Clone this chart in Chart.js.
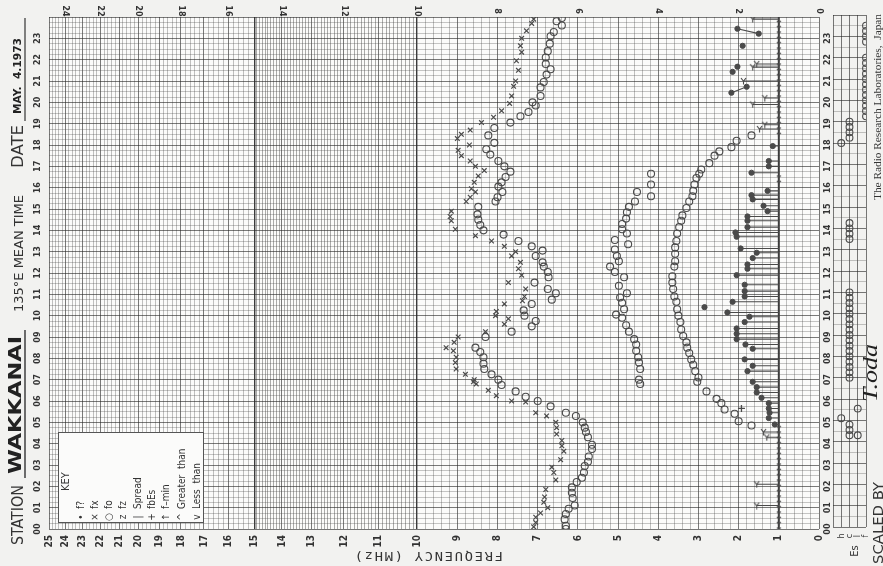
<!DOCTYPE html>
<html>
<head>
<meta charset="utf-8">
<script src="https://cdn.jsdelivr.net/npm/chart.js@4.4.1/dist/chart.umd.min.js"></script>
<style>
html, body { margin: 0; padding: 0; background: #f2f2f0; }
#wrap { position: relative; width: 883px; height: 566px; overflow: hidden; }
#wrap canvas { position: absolute; left: 0; top: 0; }
</style>
</head>
<body>
<div id="wrap">
  <canvas id="main" width="883" height="566"></canvas>
  <canvas id="es" width="883" height="566"></canvas>
</div>
<script>
// ---- data: [hour, MHz] ----
const fxF2 = [
  [0.10,7.10],[0.30,7.05],[0.55,7.05],[0.75,6.93],[1.00,6.75],[1.25,6.85],[1.50,6.83],[1.85,6.80],
  [2.30,6.55],[2.65,6.60],[2.90,6.65],[3.25,6.43],[3.65,6.35],[3.90,6.40],[4.15,6.40],[4.45,6.53],
  [4.75,6.53],[5.00,6.55],[5.30,6.78],[5.45,7.05],[5.95,7.30],[6.00,7.65],[6.25,8.03],[6.50,8.23],
  [6.80,8.53],[6.90,8.60],[7.00,8.58],[7.25,8.80],[7.50,9.03],[7.80,9.05],[8.05,9.03],[8.35,9.10],
  [8.50,9.28],[8.75,9.08],[9.00,8.98],[9.25,8.30],[9.60,7.83],[9.85,7.73],[10.00,8.05],[10.20,8.03],
  [10.55,7.83],[10.70,7.38],[10.90,7.33],[11.25,7.30],[11.55,7.73],[11.90,7.40],[12.20,7.48],[12.50,7.43],
  [12.80,7.65],[13.00,7.55],[13.25,7.83],[13.50,8.15],[13.75,8.55],[14.05,9.05],[14.45,9.15],[14.65,9.18],
  [14.90,9.15],[15.35,8.78],[15.55,8.68],[15.80,8.55],[15.95,8.65],[16.25,8.58],[16.55,8.48],[16.80,8.33],
  [17.00,8.55],[17.25,8.68],[17.50,8.90],[17.75,8.98],[18.00,8.70],[18.30,9.00],[18.50,8.90],[18.70,8.68],
  [19.05,8.40],[19.30,8.10],[19.60,7.90],[19.95,7.70],[20.30,7.65],[20.75,7.60],[21.00,7.55],[21.50,7.48],
  [21.95,7.53],[22.35,7.40],[22.65,7.43],[23.00,7.40],[23.35,7.28],[23.70,7.15],[23.90,7.10]
];
const foF2 = [
  [0.00,6.30],[0.15,6.30],[0.45,6.33],[0.70,6.30],[0.95,6.23],[1.10,6.08],[1.45,6.13],[1.70,6.15],
  [1.95,6.15],[2.20,6.03],[2.40,5.90],[2.65,5.85],[2.95,5.83],[3.15,5.75],[3.40,5.73],[3.75,5.65],
  [3.95,5.65],[4.30,5.75],[4.55,5.80],[4.75,5.83],[5.00,5.88],[5.30,6.05],[5.45,6.30],[5.75,6.68],
  [6.00,7.00],[6.20,7.30],[6.45,7.55],[6.75,7.90],[7.00,7.98],[7.25,8.15],[7.50,8.33],[7.75,8.35],
  [8.05,8.35],[8.30,8.43],[8.50,8.55],[9.00,8.30],[9.25,7.65],[9.50,7.15],[9.75,7.05],[10.00,7.33],
  [10.25,7.35],[10.55,7.15],[10.75,6.65],[11.05,6.55],[11.25,6.75],[11.55,7.08],[11.80,6.73],[12.05,6.75],
  [12.30,6.85],[12.50,6.88],[12.80,7.05],[13.05,6.88],[13.25,7.15],[13.50,7.48],[13.80,7.85],[14.00,8.35],
  [14.25,8.43],[14.50,8.48],[14.75,8.50],[15.10,8.48],[15.35,8.05],[15.55,8.00],[15.80,7.88],[16.05,7.98],
  [16.25,7.90],[16.50,7.80],[16.75,7.68],[17.00,7.83],[17.25,7.98],[17.55,8.18],[17.80,8.28],[18.10,8.08],
  [18.45,8.23],[18.80,8.08],[19.05,7.68],[19.35,7.43],[19.55,7.23],[19.85,7.05],[20.00,7.13],[20.30,6.93],
  [20.70,6.93],[20.95,6.85],[21.30,6.78],[21.55,6.68],[21.80,6.80],[22.10,6.80],[22.40,6.75],[22.75,6.70],
  [23.10,6.68],[23.30,6.60],[23.60,6.40],[23.80,6.53],[23.95,6.40]
];
const foF1 = [
  [6.80,4.45],[7.00,4.48],[7.50,4.45],[7.80,4.48],[8.05,4.50],[8.35,4.55],[8.65,4.55],[8.90,4.60],
  [9.25,4.73],[9.55,4.80],[9.90,4.90],[10.05,5.05],[10.30,4.85],[10.60,4.90],[10.85,4.95],[11.05,4.78],
  [11.40,4.98],[11.80,4.85],[12.05,5.08],[12.30,5.20],[12.55,4.98],[12.80,5.03],[13.10,5.08],[13.35,4.75],
  [13.55,5.08],[13.85,4.78],[14.05,4.90],[14.30,4.90],[14.55,4.80],[14.85,4.78],[15.10,4.73],[15.35,4.58],
  [15.60,4.18],[15.80,4.53],[16.15,4.18],[16.65,4.18]
];
const foE = [
  [4.85,1.68],[5.05,2.00],[5.40,2.10],[5.60,2.35],[5.90,2.43],[6.10,2.55],[6.45,2.80],[6.90,3.03],
  [7.10,3.00],[7.40,3.08],[7.70,3.13],[7.95,3.18],[8.25,3.23],[8.50,3.28],[8.75,3.30],[9.05,3.38],
  [9.35,3.43],[9.70,3.45],[10.00,3.50],[10.30,3.53],[10.65,3.55],[10.90,3.60],[11.25,3.63],[11.55,3.65],
  [11.85,3.65],[12.30,3.60],[12.55,3.58],[12.90,3.58],[13.20,3.58],[13.50,3.55],[13.85,3.53],[14.15,3.48],
  [14.45,3.43],[14.70,3.40],[15.05,3.30],[15.35,3.23],[15.60,3.15],[15.85,3.13],[16.15,3.10],[16.45,3.05],
  [16.65,2.98],[16.85,2.93],[17.15,2.73],[17.50,2.60],[17.70,2.48],[17.90,2.18],[18.20,2.05],[18.45,1.68]
];
// Es dots that carry a line down to the f-min line
const esDots = [
  [4.90,1.10],[5.20,1.25],[5.45,1.23],[5.65,1.25],[5.90,1.25],[6.15,1.43],[6.40,1.55],[6.65,1.55],
  [6.90,1.65],[7.40,1.78],[7.65,1.65],[7.95,1.85],[8.45,1.65],[8.65,1.83],[8.90,2.05],[9.15,2.05],
  [9.40,2.05],[9.70,1.85],[9.95,1.73],[10.15,2.28],[10.65,2.15],[10.90,1.85],[11.15,1.85],[11.45,1.85],
  [11.90,2.05],[12.20,1.78],[12.40,1.78],[12.70,1.65],[12.95,1.55],[13.15,1.95],[13.70,2.05],[13.90,2.08],
  [14.15,1.78],[14.45,1.78],[14.65,1.78],[14.90,1.28],[15.15,1.38],[15.45,1.65],[15.65,1.68],[15.85,1.28],
  [16.70,1.68],[17.00,1.25],[17.25,1.25],[17.95,1.15]
];
// Es dots without the line
const esFree = [[10.40,2.85],[20.45,2.18],[20.73,1.80],[21.43,2.15],[21.67,2.03],[22.65,1.90],[23.22,1.50],[23.45,2.03]];
const esLinks = [[[20.45,2.18],[20.73,1.80]], [[23.22,1.50],[23.45,2.03]]];
const fbEs = [[5.65,1.93]];
// "less than" Es readings
const esLess = [
  [1.10,1.55],[2.10,1.55],[4.30,1.30],[4.55,1.38],[18.75,1.48],[18.95,1.35],[19.90,1.65],[20.20,1.35],
  [21.00,1.88],[21.65,1.65],[21.80,1.55],[23.90,1.65]
];
const fminValue = 1.0;
const fminTimes = [
  0,0.25,0.5,0.75,1,1.25,1.5,1.75,2,2.25,2.5,2.75,3,3.25,3.5,3.75,4,4.25,4.5,4.75,
  16.25,16.5,18.5,18.75,19,19.25,19.5,19.75,20,20.25,20.5,20.75,21,21.25,21.5,21.75,
  22,22.25,22.5,22.75,23,23.25,23.5,23.75
];
// Es type panel (hours)
const esTypeH = [5.1, 18.0];
const esTypeC = [4.3,4.55,4.8,7.0,7.25,7.5,7.75,8.0,8.25,8.5,8.75,9.0,9.25,9.5,9.75,10.0,10.25,10.5,10.75,11.0,
  13.5,13.75,14.0,14.25,18.25,18.5,18.75,19.0];
const esTypeL = [4.3, 5.55];
const esTypeF = [19.25,19.5,19.75,20.0,20.25,20.5,20.75,21.0,21.25,21.5,21.75,22.0,22.75,23.0,23.25,23.5];
const esColumns = ['h', 'c', 'l', 'f'];

const hourLabels = ['00','01','02','03','04','05','06','07','08','09','10','11','12','13','14','15','16','17','18','19','20','21','22','23'];
const bottomFreqLabels = [25,24,23,22,21,20,19,18,17,16,15,14,13,12,11,10,9,8,7,6,5,4,3,2,1,0];
const topFreqLabels = [24,22,20,18,16,14,12,10,8,6,4,2,0];
const keyRows = [['\u2022','f?'],['\u00d7','fx'],['\u25cb','fo'],['z','fz'],['|','Spread'],['+','fbEs'],['\u2191','f\u2013min'],['^','Greater  than'],['v','Less  than']];

// ---- ionogram frequency scale: linear to 10 MHz, logarithmic above ----
const toU = f => f <= 10 ? f : 10 + 10 * Math.log(f / 10);
const fromU = u => u <= 10 ? u : 10 * Math.exp((u - 10) / 10);

const freqGrid = [];
for (let i = 0; i <= 250; i++) {
  const v = i / 10;
  if ((v < 10 || v >= 15) && i % 2) continue;
  freqGrid.push(v);
}
const timeGrid = [];
for (let i = 0; i <= 96; i++) timeGrid.push(i / 4);
const esTimeGrid = [];
for (let i = 0; i <= 48; i++) esTimeGrid.push(i / 2);

class IonoScale extends Chart.LinearScale {
  static id = 'iono';
  static defaults = Chart.LinearScale.defaults;
  buildTicks() {
    return freqGrid.map(v => ({ value: v }));
  }
  configure() {
    super.configure();
    this._u0 = toU(this.min);
    this._u1 = toU(this.max);
  }
  getPixelForValue(v) {
    if (v === null || v === undefined || isNaN(v)) return NaN;
    return this.getPixelForDecimal((toU(v) - this._u0) / (this._u1 - this._u0));
  }
  getValueForPixel(p) {
    return fromU(this._u0 + this.getDecimalForPixel(p) * (this._u1 - this._u0));
  }
}
Chart.register(IonoScale);

const COND = '"DejaVu Sans Condensed", "Liberation Sans Narrow", "DejaVu Sans", sans-serif';
const INK = '#4a4a4a';

// little "less than" marks
function makeMark(w, h) {
  const c = document.createElement('canvas');
  c.width = w; c.height = h;
  const g = c.getContext('2d');
  g.strokeStyle = INK; g.lineWidth = 1.1;
  g.beginPath();
  g.moveTo(1, 1); g.lineTo(w / 2, h * 0.55); g.lineTo(w - 1, 1);
  g.moveTo(w / 2, h * 0.55); g.lineTo(w / 2, h - 0.5);
  g.stroke();
  return c;
}
const lessMark = makeMark(7, 8);
const fminMark = makeMark(6, 5);

function rtext(ctx, str, x, y, opt) {
  ctx.save();
  ctx.translate(x, y);
  ctx.rotate((opt.angle === undefined ? -90 : opt.angle) * Math.PI / 180);
  ctx.font = opt.font;
  ctx.fillStyle = opt.color || '#333';
  ctx.textAlign = opt.align || 'center';
  ctx.textBaseline = 'middle';
  if (opt.spacing) ctx.letterSpacing = opt.spacing;
  if (opt.len) {
    const w = ctx.measureText(str).width;
    ctx.scale(opt.len / w, 1);
  }
  ctx.fillText(str, 0, 0);
  ctx.restore();
}

function vline(ctx, x, y0, y1, w) {
  ctx.save();
  ctx.strokeStyle = '#333';
  ctx.lineWidth = w || 1;
  ctx.beginPath(); ctx.moveTo(x, y0); ctx.lineTo(x, y1); ctx.stroke();
  ctx.restore();
}

const toXY = arr => arr.map(([t, f]) => ({ x: f, y: t }));

const esSegments = [];
[...esDots, ...esLess].forEach(([t, f]) => {
  esSegments.push({ x: f, y: t }, { x: fminValue, y: t }, { x: fminValue, y: null });
});
const linkSegments = [];
esLinks.forEach(([a, b]) => {
  linkSegments.push({ x: a[1], y: a[0] }, { x: b[1], y: b[0] }, { x: b[1], y: null });
});

const paperPlugin = {
  id: 'paper',
  beforeDraw(chart) {
    const { ctx, chartArea: a } = chart;
    ctx.save();
    ctx.fillStyle = '#f2f2f0';
    ctx.fillRect(0, 0, chart.width, chart.height);
    ctx.fillStyle = '#fbfbfa';
    ctx.fillRect(a.left, a.top, a.right - a.left, a.bottom - a.top);
    ctx.restore();
  }
};

const labelPlugin = {
  id: 'labels',
  afterDraw(chart) {
    const { ctx } = chart;
    const x = chart.scales.x, y = chart.scales.y;

    hourLabels.forEach((lab, i) => {
      const py = y.getPixelForValue(i);
      rtext(ctx, lab, 38, py, { font: 'bold 9px ' + COND });
      rtext(ctx, lab, 828, py, { font: 'bold 9px ' + COND });
    });
    bottomFreqLabels.forEach(v => {
      rtext(ctx, String(v), x.getPixelForValue(v), 535, { font: 'bold 10px ' + COND, align: 'right' });
    });
    topFreqLabels.forEach(v => {
      rtext(ctx, String(v), x.getPixelForValue(v), 11, { font: 'bold 9px ' + COND, angle: 90 });
    });
    rtext(ctx, 'FREQUENCY (MHz)', 428, 555, { font: '12px "DejaVu Sans Mono", monospace', angle: 180, spacing: '1.5px', len: 150 });

    // left margin
    rtext(ctx, 'STATION', 19, 545, { font: '15px ' + COND, align: 'left', len: 60 });
    rtext(ctx, 'WAKKANAI', 17, 474, { font: 'bold 17px ' + COND, align: 'left', len: 138, color: '#222' });
    vline(ctx, 25, 478, 330, 1.4);
    rtext(ctx, '135\u00b0E MEAN TIME', 20, 312, { font: '12px ' + COND, align: 'left', len: 117 });
    rtext(ctx, 'DATE', 19, 168, { font: '15px ' + COND, align: 'left', len: 43 });
    rtext(ctx, 'MAY.  4.1973', 18, 114, { font: 'bold 11px ' + COND, align: 'left', len: 76, color: '#222' });
    vline(ctx, 25, 121, 18, 1.2);

    // right margin
    rtext(ctx, 'The Radio Research Laboratories,  Japan', 878, 200, { font: '11px "Liberation Serif", serif', align: 'left', len: 186 });
    rtext(ctx, 'T.oda', 872, 402, { font: 'italic 20px "Liberation Serif", serif', align: 'left', len: 58, color: '#222' });
    rtext(ctx, 'SCALED BY', 879, 564, { font: '14px ' + COND, align: 'left', len: 82 });

    // key box
    ctx.save();
    ctx.fillStyle = '#fbfbfa';
    ctx.fillRect(58, 432, 145, 90);
    ctx.strokeStyle = '#555';
    ctx.lineWidth = 1;
    ctx.strokeRect(58.5, 432.5, 145, 90);
    ctx.restore();
    rtext(ctx, 'KEY', 66, 491, { font: '11px ' + COND, align: 'left' });
    const rowX = [81, 95, 109, 123, 138, 152, 166, 182, 197];
    keyRows.forEach(([sym, lab], i) => {
      rtext(ctx, sym, rowX[i], 517, { font: '10px ' + COND });
      rtext(ctx, lab, rowX[i], 509, { font: '10px ' + COND, align: 'left' });
    });
  }
};

const gridOpts = (colorFn, widthFn) => ({
  color: colorFn, lineWidth: widthFn, drawTicks: false
});

new Chart(document.getElementById('main'), {
  type: 'scatter',
  data: {
    datasets: [
      { label: 'fx', data: toXY(fxF2), pointStyle: 'crossRot', pointRadius: 3.3, borderColor: INK, borderWidth: 1.2 },
      { label: 'foF2', data: toXY(foF2), pointStyle: 'circle', pointRadius: 3.5, borderColor: INK, backgroundColor: 'rgba(0,0,0,0)', borderWidth: 1.1 },
      { label: 'foF1', data: toXY(foF1), pointStyle: 'circle', pointRadius: 3.5, borderColor: INK, backgroundColor: 'rgba(0,0,0,0)', borderWidth: 1.1 },
      { label: 'foE', data: toXY(foE), pointStyle: 'circle', pointRadius: 3.5, borderColor: INK, backgroundColor: 'rgba(0,0,0,0)', borderWidth: 1.1 },
      { label: 'fEs', data: toXY(esDots.concat(esFree)), pointStyle: 'circle', pointRadius: 2.6, borderColor: INK, backgroundColor: INK, borderWidth: 1 },
      { label: 'fbEs', data: toXY(fbEs), pointStyle: 'cross', pointRadius: 3.5, borderColor: INK, borderWidth: 1.3 },
      { label: 'Es <', data: toXY(esLess), pointStyle: lessMark },
      { label: 'fmin <', data: fminTimes.map(t => ({ x: fminValue, y: t })), pointStyle: fminMark },
      { label: 'Es range', data: esSegments, showLine: true, pointRadius: 0, borderColor: INK, borderWidth: 1.1, spanGaps: false },
      { label: 'links', data: linkSegments, showLine: true, pointRadius: 0, borderColor: INK, borderWidth: 1.1, spanGaps: false },
      { label: 'fmin line', data: [{ x: fminValue, y: 0 }, { x: fminValue, y: 24 }], showLine: true, pointRadius: 0, borderColor: '#3c3c3c', borderWidth: 2 }
    ]
  },
  options: {
    responsive: false,
    animation: false,
    devicePixelRatio: 1,
    layout: { padding: { left: 49, right: 64, top: 17, bottom: 37 } },
    plugins: { legend: { display: false }, tooltip: { enabled: false } },
    scales: {
      x: {
        type: 'iono', min: 0, max: 25, reverse: true,
        ticks: { display: false },
        border: { display: false },
        afterFit: s => { s.height = 0; },
        grid: gridOpts(
          c => {
            const v = c.tick ? c.tick.value : 0;
            if (v === 10 || v === 15) return 'rgba(25,25,25,0.85)';
            if (Math.abs(v - Math.round(v)) < 1e-6) return 'rgba(40,40,40,0.62)';
            if (v > 10 && v < 15) return 'rgba(60,60,60,0.42)';
            return 'rgba(70,70,70,0.33)';
          },
          c => {
            const v = c.tick ? c.tick.value : 0;
            return (v === 10 || v === 15) ? 1.4 : 1;
          })
      },
      y: {
        type: 'linear', min: 0, max: 24,
        ticks: { display: false },
        border: { display: false },
        afterFit: s => { s.width = 0; },
        afterBuildTicks: s => { s.ticks = timeGrid.map(v => ({ value: v })); },
        grid: gridOpts(
          c => {
            const v = c.tick ? c.tick.value : 0;
            return Number.isInteger(v) ? 'rgba(40,40,40,0.62)' : 'rgba(70,70,70,0.3)';
          },
          1)
      }
    }
  },
  plugins: [paperPlugin, labelPlugin]
});

// ---- Es type panel ----
const esLabelPlugin = {
  id: 'esLabels',
  afterDraw(chart) {
    const { ctx } = chart;
    const x = chart.scales.x;
    esColumns.forEach((lab, i) => {
      rtext(ctx, lab, x.getPixelForValue(i + 1), 536, { font: '9px ' + COND });
    });
    rtext(ctx, 'Es', 855, 551, { font: '11px ' + COND });
  }
};

const esPoint = { pointStyle: 'circle', pointRadius: 3.4, borderColor: INK, backgroundColor: 'rgba(0,0,0,0)', borderWidth: 1.1 };

new Chart(document.getElementById('es'), {
  type: 'scatter',
  data: {
    datasets: [
      Object.assign({ label: 'h', data: esTypeH.map(t => ({ x: 1, y: t })) }, esPoint),
      Object.assign({ label: 'c', data: esTypeC.map(t => ({ x: 2, y: t })) }, esPoint),
      Object.assign({ label: 'l', data: esTypeL.map(t => ({ x: 3, y: t })) }, esPoint),
      Object.assign({ label: 'f', data: esTypeF.map(t => ({ x: 4, y: t })) }, esPoint)
    ]
  },
  options: {
    responsive: false,
    animation: false,
    devicePixelRatio: 1,
    layout: { padding: { left: 833, right: 17, top: 15, bottom: 39 } },
    plugins: { legend: { display: false }, tooltip: { enabled: false } },
    scales: {
      x: {
        type: 'linear', min: 0, max: 4,
        ticks: { display: false },
        border: { display: false },
        afterFit: s => { s.height = 0; },
        afterBuildTicks: s => { s.ticks = [0, 1, 2, 3, 4].map(v => ({ value: v })); },
        grid: gridOpts('rgba(40,40,40,0.62)', 1)
      },
      y: {
        type: 'linear', min: 0, max: 24,
        ticks: { display: false },
        border: { display: false },
        afterFit: s => { s.width = 0; },
        afterBuildTicks: s => { s.ticks = esTimeGrid.map(v => ({ value: v })); },
        grid: gridOpts(
          c => {
            const v = c.tick ? c.tick.value : 0;
            return Number.isInteger(v) ? 'rgba(40,40,40,0.62)' : 'rgba(70,70,70,0.3)';
          },
          1)
      }
    }
  },
  plugins: [esLabelPlugin]
});
</script>
</body>
</html>
